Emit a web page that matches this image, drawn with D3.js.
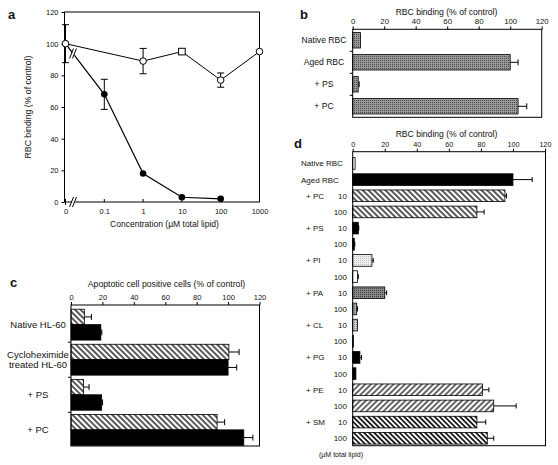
<!DOCTYPE html>
<html><head><meta charset="utf-8">
<script src="https://cdn.jsdelivr.net/npm/d3@7"></script>
<style>
body{margin:0;background:#fff}
svg{display:block}
text{font-family:"Liberation Sans",Arial,Helvetica,sans-serif;fill:#111}
</style>
</head><body>
<svg id="fig" width="558" height="465"></svg>
<script>
// ---------- Panel a data ----------
const aTickValues = [0.01, 0.1, 1, 10, 100, 1000]; // "0" sits one decade left of 0.1 (axis break)
const aTickLabels = ["0", "0.1", "1", "10", "100", "1000"];
const aYTicks = [0, 20, 40, 60, 80, 100, 120];
const openConc = [0.01, 1, 10, 100, 1000];
const openMean = [100, 89, 95, 77, 95];
const openErr = [12, 8, 0.5, 4.5, 0];
const openShape = ["circle", "circle", "square", "circle", "circle"];
const filledConc = [0.01, 0.1, 1, 10, 100];
const filledMean = [100, 68, 18, 3, 2];
const filledErr = [0, 9.5, 0, 0, 0];

// ---------- Panel b data ----------
const bCats = ["Native RBC", "Aged RBC", "+ PS", "+ PC"];
const bVals = [5, 100, 3.5, 105];
const bErr = [0, 5, 0.6, 5.5];

// ---------- Panel c data ----------
const cCats = [["Native HL-60"], ["Cycloheximide", "treated HL-60"], ["+ PS"], ["+ PC"]];
const cHatched = [8.5, 100.5, 8, 93];
const cHatchedErr = [4.5, 6.5, 3.5, 4.8];
const cSolid = [19, 100, 19.5, 110];
const cSolidErr = [0.6, 5.5, 0.6, 5.8];

// ---------- Panel d data ----------
const dGroup = ["Native RBC", "Aged RBC", "+ PC", "", "+ PS", "", "+ PI", "", "+ PA", "", "+ CL", "", "+ PG", "", "+ PE", "", "+ SM", ""];
const dDose = ["", "", "10", "100", "10", "100", "10", "100", "10", "100", "10", "100", "10", "100", "10", "100", "10", "100"];
const dVals = [1.5, 100, 95, 77.5, 3.5, 1, 12, 3, 20, 2.5, 3, 0.5, 4.5, 2, 81, 88, 77.5, 84];
const dErr = [0, 12, 1, 4.5, 0.3, 0.3, 0.8, 0.5, 1.2, 0.5, 0, 0, 1, 0, 4, 14, 5.5, 4];
const dLipid = ["native", "aged", "PC", "PC", "PS", "PS", "PI10", "PI100", "PA10", "PA100", "CL10", "CL100", "PG", "PG", "PE", "PE", "SM", "SM"];
const xTicks120 = [0, 20, 40, 60, 80, 100, 120];

// ---------- setup ----------
const svg = d3.select("#fig");
svg.append("rect").attr("width", 558).attr("height", 465).attr("fill", "#fff");
const defs = svg.append("defs");

function hatch(id, angle, spacing, width, bg, color) {
  const p = defs.append("pattern").attr("id", id).attr("patternUnits", "userSpaceOnUse")
    .attr("width", spacing).attr("height", spacing).attr("patternTransform", `rotate(${angle})`);
  p.append("rect").attr("width", spacing).attr("height", spacing).attr("fill", bg);
  p.append("line").attr("x1", spacing / 2).attr("x2", spacing / 2).attr("y1", 0).attr("y2", spacing)
    .attr("stroke", color || "#000").attr("stroke-width", width);
}
function stipple(id, bg, dot) {
  const p = defs.append("pattern").attr("id", id).attr("patternUnits", "userSpaceOnUse")
    .attr("width", 2).attr("height", 2);
  p.append("rect").attr("width", 2).attr("height", 2).attr("fill", bg);
  p.append("rect").attr("width", 1).attr("height", 1).attr("fill", dot);
}
hatch("hBack", -45, 4, 1.3, "#fff");
hatch("hFwd", 45, 4, 1.2, "#fff");
hatch("hBackDense", -45, 3.6, 1.6, "#fff");
stipple("stipB", "#9a9a9a", "#4a4a4a");
stipple("stipPI", "#f0f0f0", "#bdbdbd");
stipple("stipPA", "#8a8a8a", "#3c3c3c");
stipple("stipCL", "#d0d0d0", "#888");
stipple("stipPA100", "#aaa", "#666");

const dFillFor = {
  native: "#fff", aged: "#000", PC: "url(#hBack)", PS: "#000", PI10: "url(#stipPI)", PI100: "#fff",
  PA10: "url(#stipPA)", PA100: "url(#stipPA100)", CL10: "url(#stipCL)", CL100: "#999", PG: "#000",
  PE: "url(#hFwd)", SM: "url(#hBackDense)"
};

function txt(x, y, s, size, anchor) {
  return svg.append("text").attr("x", x).attr("y", y).attr("font-size", size)
    .attr("text-anchor", anchor || "start").attr("fill", "#111").text(s);
}
function panelLetter(t, x, y) {
  txt(x, y, t, 13).attr("font-weight", "bold");
}
function box(x0, y0, x1, y1) {
  svg.append("rect").attr("x", x0).attr("y", y0).attr("width", x1 - x0).attr("height", y1 - y0)
    .attr("fill", "none").attr("stroke", "#000").attr("stroke-width", 1);
}
function topAxis(xs, yTop, fs) {
  const g = svg.append("g").attr("transform", `translate(0,${yTop})`);
  const ax = d3.axisTop(xs).tickValues(xTicks120).tickSize(3).tickPadding(2);
  g.call(ax);
  g.select(".domain").remove();
  g.selectAll("text").attr("font-size", fs).attr("font-family", "Liberation Sans, Arial, sans-serif").attr("fill", "#111");
  g.selectAll("line").attr("stroke", "#000");
}
function errH(g, x0, x1, yc, cap) {
  g.append("line").attr("x1", x0).attr("x2", x1).attr("y1", yc).attr("y2", yc).attr("stroke", "#000").attr("stroke-width", 1);
  g.append("line").attr("x1", x1).attr("x2", x1).attr("y1", yc - cap).attr("y2", yc + cap).attr("stroke", "#000").attr("stroke-width", 1);
}

// ================= Panel a =================
{
  const L = 64.5, R = 259.5, T = 12, B = 202;
  const x = d3.scaleLog().domain([0.01, 1000]).range([65.5, 259.5]);
  const y = d3.scaleLinear().domain([0, 120]).range([B, T]);
  panelLetter("a", 8, 19);
  box(L, T, R, B);
  const gy = svg.append("g").attr("transform", `translate(${L},0)`)
    .call(d3.axisLeft(y).tickValues(aYTicks).tickSize(3).tickPadding(3));
  gy.select(".domain").remove();
  gy.selectAll("text").attr("font-size", 7.5).attr("font-family", "Liberation Sans, Arial, sans-serif").attr("fill", "#111");
  const gx = svg.append("g").attr("transform", `translate(0,${B})`)
    .call(d3.axisBottom(x).tickValues(aTickValues).tickFormat((d, i) => aTickLabels[i]).tickSize(0).tickPadding(7));
  gx.select(".domain").remove();
  gx.selectAll("text").attr("font-size", 7.5).attr("font-family", "Liberation Sans, Arial, sans-serif").attr("fill", "#111");
  aTickValues.forEach(v => {
    svg.append("line").attr("x1", x(v)).attr("x2", x(v)).attr("y1", B).attr("y2", B - 3).attr("stroke", "#000");
  });
  svg.append("line").attr("x1", x(0.01)).attr("x2", x(0.01)).attr("y1", B).attr("y2", B + 3).attr("stroke", "#000");

  svg.append("text").attr("transform", `translate(31,${(T + B) / 2}) rotate(-90)`).attr("text-anchor", "middle")
    .attr("font-size", 8.7).attr("fill", "#111").text("RBC binding (% of control)");
  txt(164.5, 227, "Concentration (\u00b5M total lipid)", 8.5, "middle");

  const g = svg.append("g");
  const line = d3.line().x(d => x(d[0])).y(d => y(d[1]));
  const fData = filledConc.map((c, i) => [c, filledMean[i]]);
  const oData = openConc.map((c, i) => [c, openMean[i]]);
  g.append("path").attr("d", line(fData)).attr("fill", "none").attr("stroke", "#000").attr("stroke-width", 1.2);
  g.append("path").attr("d", line(oData)).attr("fill", "none").attr("stroke", "#000").attr("stroke-width", 1);
  function errV(cx, m, e) {
    if (e <= 0.6) return;
    g.append("line").attr("x1", cx).attr("x2", cx).attr("y1", y(m - e)).attr("y2", y(m + e)).attr("stroke", "#000");
    [m - e, m + e].forEach(v => g.append("line").attr("x1", cx - 3.5).attr("x2", cx + 3.5).attr("y1", y(v)).attr("y2", y(v)).attr("stroke", "#000"));
  }
  filledConc.forEach((c, i) => errV(x(c), filledMean[i], filledErr[i]));
  openConc.forEach((c, i) => errV(x(c), openMean[i], openErr[i]));
  g.selectAll(".fm").data(fData).enter().append("circle")
    .attr("cx", d => x(d[0])).attr("cy", d => y(d[1])).attr("r", 3.3).attr("fill", "#000");
  oData.forEach((d, i) => {
    if (openShape[i] === "square") {
      g.append("rect").attr("x", x(d[0]) - 3.3).attr("y", y(d[1]) - 3.3).attr("width", 6.6).attr("height", 6.6)
        .attr("fill", "#fff").attr("stroke", "#000").attr("stroke-width", 1);
    } else {
      g.append("circle").attr("cx", x(d[0])).attr("cy", y(d[1])).attr("r", 3.3)
        .attr("fill", "#fff").attr("stroke", "#000").attr("stroke-width", 1);
    }
  });
  const bx = x(0.01) + 7.5;
  function breakMark(cx, cy) {
    svg.append("polygon").attr("points", `${cx - 3},${cy + 5} ${cx + 1},${cy - 5} ${cx + 4},${cy - 5} ${cx},${cy + 5}`)
      .attr("fill", "#fff");
    svg.append("line").attr("x1", cx - 3.5).attr("y1", cy + 5).attr("x2", cx + 0.5).attr("y2", cy - 5).attr("stroke", "#000").attr("stroke-width", 1);
    svg.append("line").attr("x1", cx - 0.5).attr("y1", cy + 5).attr("x2", cx + 3.5).attr("y2", cy - 5).attr("stroke", "#000").attr("stroke-width", 1);
  }
  const t = (bx - x(0.01)) / (x(0.1) - x(0.01));
  breakMark(bx, y(filledMean[0]) + t * (y(filledMean[1]) - y(filledMean[0])));
  breakMark(bx, B);
}

// ================= Panel b =================
{
  const L = 352.7, R = 541.7, T = 29.3, B = 117.3;
  const x = d3.scaleLinear().domain([0, 120]).range([L, R]);
  const y = d3.scaleBand().domain(bCats).range([T, B]).paddingInner(0.3).paddingOuter(0.15);
  panelLetter("b", 300, 18.5);
  txt(446.5, 14.5, "RBC binding (% of control)", 8.6, "middle");
  topAxis(x, T, 7.8);
  const g = svg.append("g");
  bCats.forEach((c, i) => {
    g.append("rect").attr("x", x(0)).attr("y", y(c)).attr("width", x(bVals[i]) - x(0)).attr("height", y.bandwidth())
      .attr("fill", "url(#stipB)").attr("stroke", "#000").attr("stroke-width", 0.8);
    if (bErr[i] > 0) errH(g, x(bVals[i]), x(bVals[i] + bErr[i]), y(c) + y.bandwidth() / 2, 3);
    txt(324, y(c) + y.bandwidth() / 2 + 3, c, 8.6, "middle");
    if (i > 0) {
      const yy = y(c) - y.step() * y.paddingInner() / 2;
      svg.append("line").attr("x1", L - 3).attr("x2", L).attr("y1", yy).attr("y2", yy).attr("stroke", "#000");
    }
  });
  box(L, T, R, B);
}

// ================= Panel c =================
{
  const L = 71, R = 259.5, T = 305, B = 446;
  const x = d3.scaleLinear().domain([0, 120]).range([L, R]);
  const idx = cCats.map((d, i) => i);
  const y = d3.scaleBand().domain(idx).range([308.5, B]).paddingInner(0.12).paddingOuter(0.02);
  panelLetter("c", 10, 287);
  txt(166.5, 286.5, "Apoptotic cell positive cells (% of control)", 8.7, "middle");
  topAxis(x, T, 7.5);
  const g = svg.append("g");
  idx.forEach(i => {
    const bh = y.bandwidth() / 2;
    const y0 = y(i);
    g.append("rect").attr("x", x(0)).attr("y", y0).attr("width", x(cHatched[i]) - x(0)).attr("height", bh)
      .attr("fill", "url(#hBack)").attr("stroke", "#000").attr("stroke-width", 0.8);
    g.append("rect").attr("x", x(0)).attr("y", y0 + bh).attr("width", x(cSolid[i]) - x(0)).attr("height", bh)
      .attr("fill", "#000").attr("stroke", "#000").attr("stroke-width", 0.8);
    errH(g, x(cHatched[i]), x(cHatched[i] + cHatchedErr[i]), y0 + bh / 2, 3);
    errH(g, x(cSolid[i]), x(cSolid[i] + cSolidErr[i]), y0 + bh * 1.5, 3);
    const lines = cCats[i];
    const cy = y0 + y.bandwidth() / 2;
    lines.forEach((t, k) => {
      txt(38, cy + 3.5 + (k - (lines.length - 1) / 2) * 9.5, t, 9.5, "middle");
    });
    if (i > 0) {
      const yy = y0 - y.step() * y.paddingInner() / 2;
      svg.append("line").attr("x1", L - 3).attr("x2", L).attr("y1", yy).attr("y2", yy).attr("stroke", "#000");
    }
  });
  box(L, T, R, B);
}

// ================= Panel d =================
{
  const L = 352.7, R = 545.5, T = 151.7, B = 445.7;
  const x = d3.scaleLinear().domain([0, 120]).range([L, L + 192.3]);
  const idx = dVals.map((d, i) => i);
  const y = d3.scaleBand().domain(idx).range([156, B]).paddingInner(0.28).paddingOuter(0.1);
  panelLetter("d", 294, 148);
  txt(446.5, 136.5, "RBC binding (% of control)", 8.6, "middle");
  topAxis(x, T, 7.2);
  const g = svg.append("g");
  idx.forEach(i => {
    const y0 = y(i), bh = y.bandwidth();
    g.append("rect").attr("x", x(0)).attr("y", y0).attr("width", Math.max(x(dVals[i]) - x(0), 0.6)).attr("height", bh)
      .attr("fill", dFillFor[dLipid[i]]).attr("stroke", "#000").attr("stroke-width", 0.8);
    if (dErr[i] > 0) errH(g, x(dVals[i]), x(dVals[i] + dErr[i]), y0 + bh / 2, 2.5);
    const cy = y0 + bh / 2 + 3;
    if (dGroup[i]) txt(dDose[i] ? 306 : 301, cy, dGroup[i], 8);
    if (dDose[i]) txt(347, cy, dDose[i], 8, "end");
  });
  txt(319, 457, "(\u00b5M total lipid)", 7);
  box(L, T, R, B);
}
</script>
</body></html>
